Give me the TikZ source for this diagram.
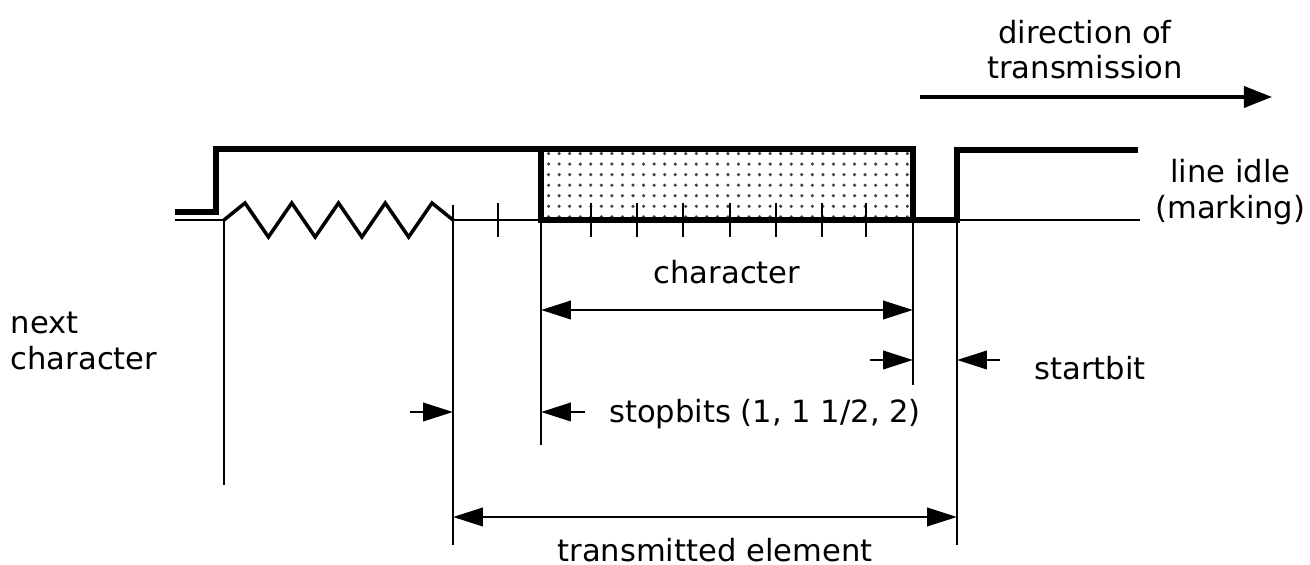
\documentclass[tikz,border=0pt]{standalone}
\usepackage{fontspec}
\setmainfont{DejaVu Sans}
\usetikzlibrary{arrows.meta,patterns}

\begin{document}
\begin{tikzpicture}[x=0.01cm,y=-0.01cm,
		signal/.style={line width=1.5pt},
		guide/.style={line width=0.6pt},
		zig/.style={line width=1pt,line join=miter},
		dim/.style={line width=0.8pt,{Triangle[length=8.5pt,width=5.2pt]}-{Triangle[length=8.5pt,width=5.2pt]}},
		tip/.style={line width=0.8pt,-{Triangle[length=8.5pt,width=5.2pt]}},
		lbl/.style={font=\fontsize{8.7}{10}\selectfont,inner sep=0pt,align=center}]
	\useasboundingbox (0,0) rectangle (1310,565);
	
	% points on the idle line
	\foreach \n/\x in
	{nx/224, tx/453, sb/541, ch/913, st/957}{
		\coordinate (\n) at (\x,220);
	}
	% levels of the dimension arrows
	\foreach \n/\y in
	{lvA/310, lvB/360, lvC/412, lvD/517}{
		\coordinate (\n) at (0,\y);
	}
	
	% signal
	\draw[signal] (175,212) -- (216,212) -- (216,149) -- (sb |- 0,149);
	\draw[signal,pattern=dots,pattern color=black!75] (sb |- 0,149) rectangle (ch);
	\draw[signal] (ch) -- (st) -- (957,150) -- (1138,150);
	
	% idle line and previous character
	\draw[guide] (175,220) -- (nx);
	\draw[zig] (nx) \foreach \k in {0,...,3}{
		-- ({245+46.75*\k},203) -- ({268.4+46.75*\k},237)} -- (432,203) -- (tx);
	\draw[guide] (tx) -- (sb);
	\draw[guide] (st) -- (1140,220);
	
	% bit ticks
	\foreach \x in {498,591,637,683,730,776,822,866}{
		\draw[guide] (\x,203) -- (\x,237);
	}
	
	% drop lines
	\draw[guide] (nx) -- (nx |- 0,485);
	\draw[guide] (tx |- 0,205) -- (tx |- 0,545);
	\draw[guide] (sb) -- (sb |- 0,445);
	\draw[guide] (ch) -- (ch |- 0,385);
	\draw[guide] (st |- 0,150) -- (st |- 0,545);
	
	% dimensions
	\draw[dim] (sb |- lvA) -- (ch |- lvA);
	\coordinate (cbA) at (870,360); % stop end
	\coordinate (cbB) at (1000,360); % start end
	\draw[tip] (cbA) -- (ch |- lvB);
	\draw[tip] (cbB) -- (st |- lvB);
	\coordinate (cbC) at (410,412);
	\coordinate (cbD) at (585,412);
	\draw[tip] (cbC) -- (tx |- lvC);
	\draw[tip] (cbD) -- (sb |- lvC);
	\draw[dim] (tx |- lvD) -- (st |- lvD);
	
	% labels
	\node[lbl] (chr) at (727,272) {character};
	\node[lbl] (sta) at (1090,368) {startbit};
	\node[lbl] (sto) at (765,414) {stopbits (1, 1 1/2, 2)};
	\node[lbl] (tre) at (715,550) {transmitted element};
	\node[lbl,anchor=west,align=left] (nxt) at (10,341) {next\\character};
	\node[lbl,anchor=east] (idl) at (1306,192) {line idle\\(marking)};
	\node[lbl] (dir) at (1085,50) {direction of\\transmission};
	
	% direction arrow
	\coordinate (drA) at (920,97);
	\coordinate (drB) at (1272,97);
	\draw[line width=1pt,-{Triangle[length=8pt,width=6pt]}] (drA) -- (drB);
\end{tikzpicture}
\end{document}
